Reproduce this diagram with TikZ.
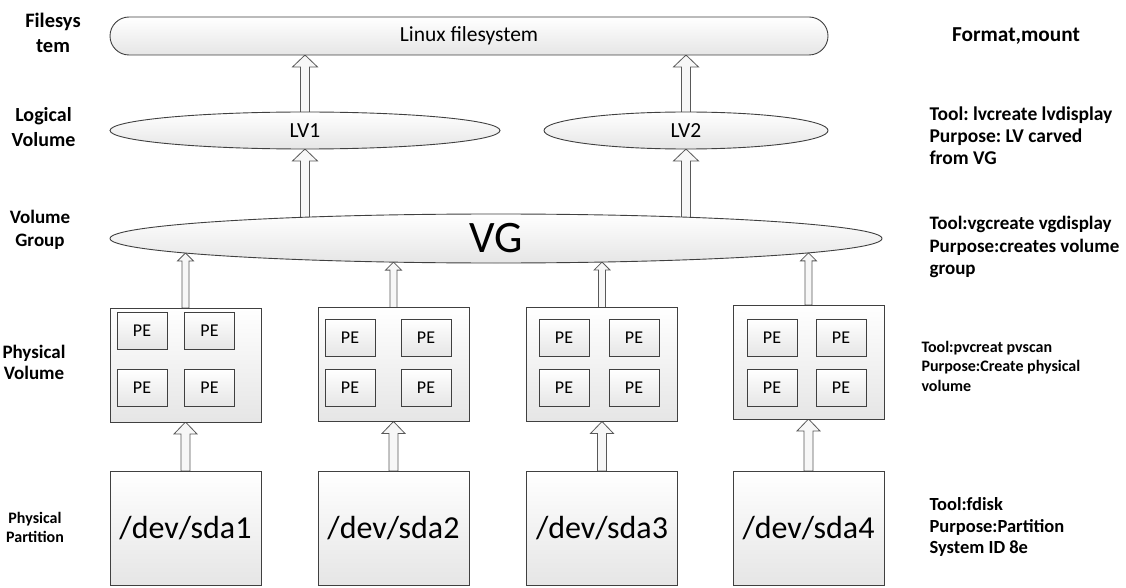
\documentclass[tikz,border=0pt]{standalone}
\usepackage{fontspec}
\setmainfont{Carlito}
\frenchspacing
\usetikzlibrary{shapes.geometric,backgrounds,calc}
\newcommand{\blockarrow}[5]{%
  \draw[blk] let \p1=(#1), \p2=(#2) in
    (\x1-#3,\y1) -- (\x1-#3,\y2-#5) -- (\x1-#4,\y2-#5) -- (\x1,\y2)
    -- (\x1+#4,\y2-#5) -- (\x1+#3,\y2-#5) -- (\x1+#3,\y1) -- cycle;}
\newcommand{\ellarrow}[2]{%
  \draw[blk] let \p1=(#1), \p2=(#2.center), \p3=(#2.east), \p4=(#2.south),
    \n1={\y2-(\y2-\y4)*sqrt(1-((\x1-\x2)/(\x3-\x2))^2)} in
    (\x1-3.5,\y1) -- (\x1-3.5,\n1-8) -- (\x1-8,\n1-8) -- (\x1,\n1)
    -- (\x1+8,\n1-8) -- (\x1+3.5,\n1-8) -- (\x1+3.5,\y1) -- cycle;}
\begin{document}
\begin{tikzpicture}[x=1pt,y=1pt,
  shp/.style={draw=black!75, line width=0.9pt, top color=white, bottom color=black!10,
    inner sep=0pt, outer sep=0pt},
  fsbox/.style={shp, rounded corners=19pt, minimum width=718pt, minimum height=38pt,
    font=\fontsize{21.5}{24}\selectfont},
  lvell/.style={shp, ellipse, minimum height=37pt, font=\fontsize{21.5}{24}\selectfont},
  vgell/.style={shp, ellipse, minimum width=772pt, minimum height=49pt,
    font=\fontsize{45}{50}\selectfont},
  pvbox/.style={shp, minimum width=151pt, minimum height=114pt},
  pebox/.style={shp, line width=0.7pt, minimum width=50pt, minimum height=37pt,
    font=\fontsize{18}{20}\selectfont},
  pdbox/.style={shp, minimum width=151pt, minimum height=114pt,
    font=\fontsize{32}{36}\selectfont},
  blk/.style={draw=black!65, line width=0.8pt, fill=black!3},
  lefttxt/.style 2 args={align=center, font=\bfseries\fontsize{#1}{#2}\selectfont},
  righttxt/.style 2 args={align=left, anchor=west, font=\bfseries\fontsize{#1}{#2}\selectfont}
]
\useasboundingbox (0,0) rectangle (1126,-588);

% main shapes
\node[fsbox] (fs) at (469,-36) {Linux filesystem};
\node[lvell, minimum width=390pt] (lv1) at (305,-130.5) {LV1};
\node[lvell, minimum width=284pt] (lv2) at (686,-130.5) {LV2};
\node[vgell] (vg) at (496,-238.5) {VG};

\node[pvbox] (pv1) at (185.5,-365) {};
\node[pvbox] (pv2) at (393.5,-364.5) {};
\node[pvbox] (pv3) at (602,-364.5) {};
\node[pvbox] (pv4) at (808.5,-362) {};

\node[pebox] (pe11) at (142,-331) {PE};
\node[pebox] (pe12) at (209.5,-331) {PE};
\node[pebox] (pe13) at (142,-388) {PE};
\node[pebox] (pe14) at (209.5,-388) {PE};
\node[pebox] (pe21) at (350,-338) {PE};
\node[pebox] (pe22) at (426,-338) {PE};
\node[pebox] (pe23) at (350,-388) {PE};
\node[pebox] (pe24) at (426,-388) {PE};
\node[pebox] (pe31) at (564,-338) {PE};
\node[pebox] (pe32) at (634,-338) {PE};
\node[pebox] (pe33) at (564,-388) {PE};
\node[pebox] (pe34) at (634,-388) {PE};
\node[pebox] (pe41) at (772,-338) {PE};
\node[pebox] (pe42) at (841,-338) {PE};
\node[pebox] (pe43) at (772,-388) {PE};
\node[pebox] (pe44) at (841,-388) {PE};

\node[pdbox] (pd1) at (185.5,-528) {/dev/sda1};
\node[pdbox] (pd2) at (393.5,-528) {/dev/sda2};
\node[pdbox] (pd3) at (602,-528) {/dev/sda3};
\node[pdbox] (pd4) at (808.5,-528) {/dev/sda4};

% arrows behind the shapes
\begin{pgfonlayer}{background}
\fill[white] (0,0) rectangle (1126,-588);
\blockarrow{lv1.center}{fs.south -| lv1.center}{4.5}{12.5}{12}
\blockarrow{lv2.center}{fs.south -| lv2.center}{4.5}{12.5}{12}
\blockarrow{vg.center -| lv1.center}{lv1.south}{4.5}{12.5}{12}
\blockarrow{vg.center -| lv2.center}{lv2.south}{4.5}{12.5}{12}
\ellarrow{pv1.north}{vg}
\ellarrow{pv2.north}{vg}
\ellarrow{pv3.north}{vg}
\ellarrow{pv4.north}{vg}
\blockarrow{pd1.north}{pv1.south}{4.5}{11.5}{12}
\blockarrow{pd2.north}{pv2.south}{4.5}{11.5}{12}
\blockarrow{pd3.north}{pv3.south}{4.5}{11.5}{12}
\blockarrow{pd4.north}{pv4.south}{4.5}{11.5}{12}
\end{pgfonlayer}

% left labels
\node[lefttxt={20.5}{25}] (lfs) at (53,-32.5) {Filesys\\tem};
\node[lefttxt={20}{25}] (llv) at (43.5,-127) {Logical\\Volume};
\node[lefttxt={19}{23}] (lvg) at (40,-229.5) {Volume\\Group};
\node[lefttxt={19}{21.5}] (lpv) at (34,-362.5) {Physical\\Volume};
\node[lefttxt={16}{19}] (lpd) at (35,-527.5) {Physical\\Partition};

% right labels
\node[lefttxt={21.3}{24}] (rfs) at (1016,-36) {Format,mount};
\node[righttxt={19.5}{22}] (rlv) at (926,-136) {Tool: lvcreate lvdisplay\\Purpose: LV carved\\from VG};
\node[righttxt={19}{22.5}] (rvg) at (926,-247) {Tool:vgcreate vgdisplay\\Purpose:creates volume\\group};
\node[righttxt={16}{19.5}] (rpv) at (918,-366) {Tool:pvcreat pvscan\\Purpose:Create physical\\volume};
\node[righttxt={18.5}{21.5}] (rpd) at (926,-527) {Tool:fdisk\\Purpose:Partition\\System ID 8e};
\end{tikzpicture}
\end{document}
